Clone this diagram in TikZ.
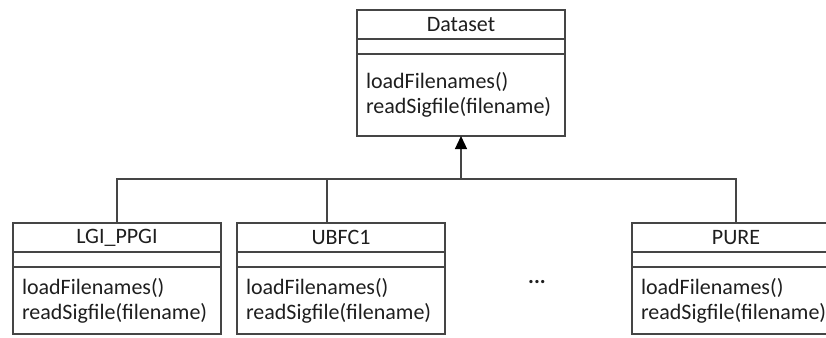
\documentclass[tikz,border=0pt]{standalone}
\usepackage{fontspec}
\setmainfont{Carlito}
\usetikzlibrary{positioning,arrows.meta}

\definecolor{umlline}{HTML}{454545}
\definecolor{umltext}{HTML}{1E1E1E}

\tikzset{
  compartment/.style={draw=umlline, line width=1.2pt, inner sep=0pt,
    outer sep=0pt, minimum width=208pt, text=umltext,
    font=\fontsize{22}{25}\selectfont},
  classname/.style={compartment, minimum height=29pt, anchor=north west},
  attrs/.style={compartment, minimum height=15pt},
  ops/.style={compartment, minimum height=#1, align=left,
    text width=190pt, inner xsep=9pt},
  generalization/.style={draw=umlline, line width=1.2pt}
}

\begin{document}
\begin{tikzpicture}[x=1pt,y=-1pt]
        % Fija el tamaño de la imagen.
        \useasboundingbox (0,0) rectangle (826,337);

        % Clase base Dataset.
        \node[classname] (ds) at (357,10) {Dataset};
        \node[attrs, below=0pt of ds] (ds-attr) {};
        \node[ops=82pt, below=0pt of ds-attr] (ds-ops)
            {loadFilenames()\\readSigfile(filename)};

        % Clase derivada LGI_PPGI.
        \node[classname] (lgi) at (13,223) {LGI\_PPGI};
        \node[attrs, below=0pt of lgi] (lgi-attr) {};
        \node[ops=67pt, below=0pt of lgi-attr] (lgi-ops)
            {loadFilenames()\\readSigfile(filename)};

        % Clase derivada UBFC1.
        \node[classname] (ubfc) at (237,223) {UBFC1};
        \node[attrs, below=0pt of ubfc] (ubfc-attr) {};
        \node[ops=67pt, below=0pt of ubfc-attr] (ubfc-ops)
            {loadFilenames()\\readSigfile(filename)};

        % Clase derivada PURE.
        \node[classname] (pure) at (632,223) {PURE};
        \node[attrs, below=0pt of pure] (pure-attr) {};
        \node[ops=67pt, below=0pt of pure-attr] (pure-ops)
            {loadFilenames()\\readSigfile(filename)};

        % Puntos suspensivos entre las clases.
        \node[text=umltext, font=\fontsize{22}{25}\selectfont\bfseries]
            (dots) at (537,282) {...};

        % Une las clases derivadas con la clase base.
        \coordinate (bus) at (ds-ops.south |- 0,179);
        \draw[generalization, -{Triangle[width=12pt,length=13pt,color=black]}]
            (bus) -- (ds-ops.south);
        \draw[generalization] (lgi.north) |- (bus);
        \draw[generalization] ([xshift=-14pt]ubfc.north) |- (bus);
        \draw[generalization] (pure.north) |- (bus);
    \end{tikzpicture}
\end{document}
